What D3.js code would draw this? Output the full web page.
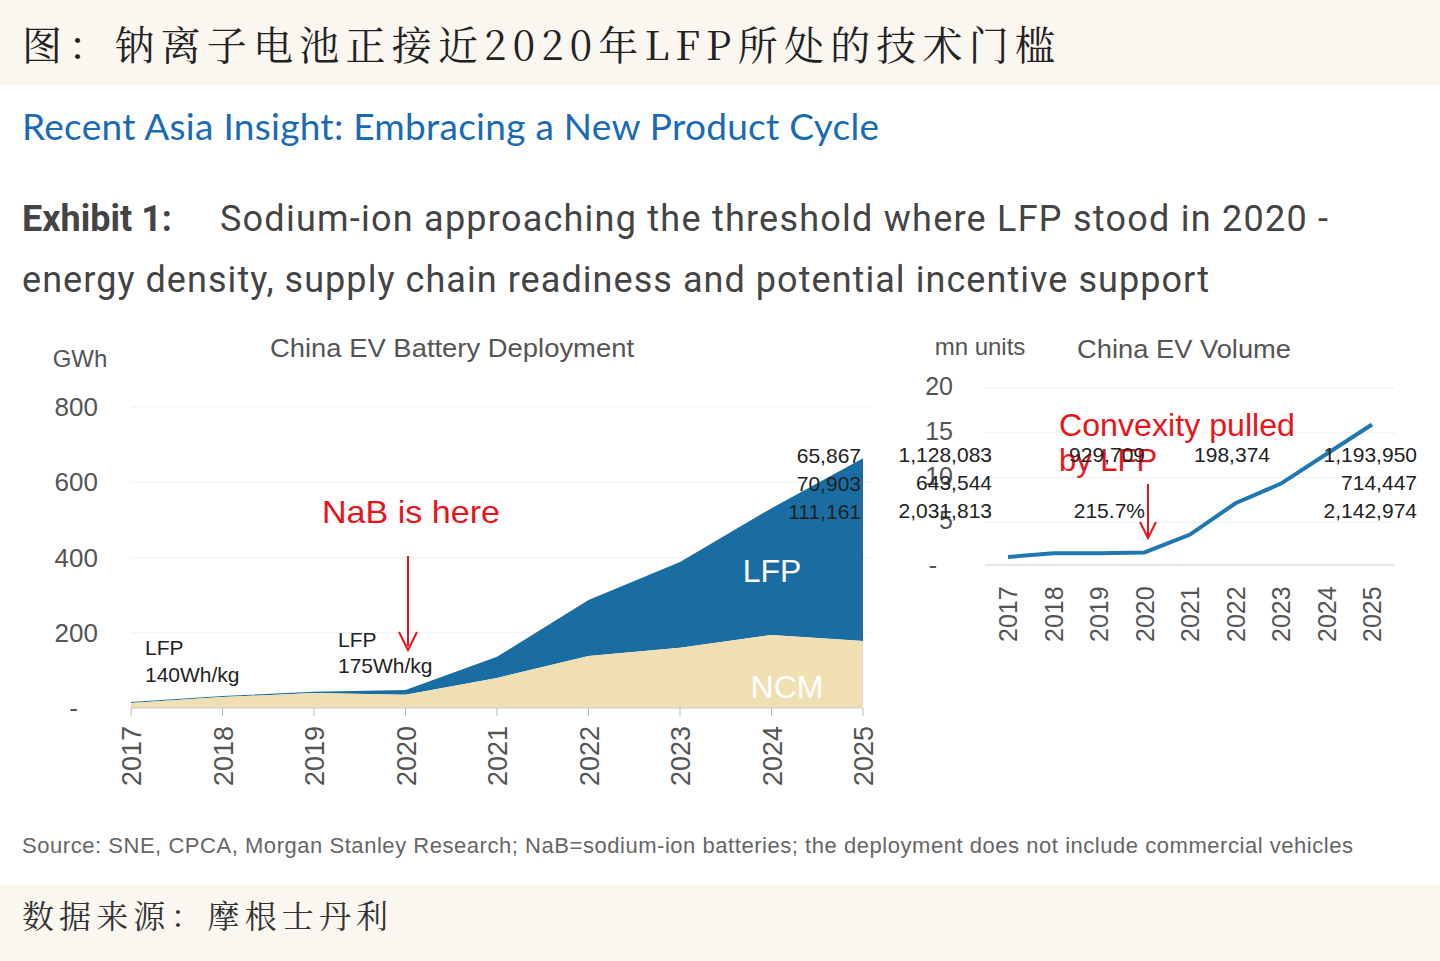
<!DOCTYPE html>
<html><head><meta charset="utf-8">
<script src="https://cdn.jsdelivr.net/npm/d3@7"></script>
<style>body{margin:0;background:#fff}svg{display:block}</style></head>
<body><svg id="c" width="1440" height="961"></svg>
<script>
const years=[2017,2018,2019,2020,2021,2022,2023,2024,2025];
const ncm=[13,29,40,35,80,138,160,194,178];
const lfp=[3,3,3,13,56,149,228,337,486];
const leftTicks=[0,200,400,600,800];
const leftTickLabels=["-","200","400","600","800"];
const evVolume=[0.9,1.3,1.3,1.4,3.4,6.9,9.1,12.4,15.7];
const rightTicks=[0,5,10,15,20];
const rightTickLabels=["-","5","10","15","20"];
const leftNums=["65,867","70,903","111,161"];
const rightNumsCol1=["1,128,083","643,544","2,031,813"];
const rightNumsCol2=["929,709","","215.7%"];
const rightNumsCol4=["1,193,950","714,447","2,142,974"];

const svg=d3.select("#c");
const F="Liberation Sans, Arial, sans-serif";
svg.append("rect").attr("width",1440).attr("height",961).attr("fill","#fff");
svg.append("rect").attr("width",1440).attr("height",85).attr("fill","#faf6f0");
svg.append("rect").attr("y",885).attr("width",1440).attr("height",76).attr("fill","#faf6f0");
svg.append("text").attr("x",22).attr("y",60).attr("font-family","Noto Serif CJK SC, Noto Sans CJK SC").attr("font-size",40).attr("fill","#222").attr("textLength",1033).attr("lengthAdjust","spacing").text("图：钠离子电池正接近2020年LFP所处的技术门槛");
svg.append("text").attr("x",22).attr("y",928).attr("font-family","Noto Serif CJK SC, Noto Sans CJK SC").attr("font-size",32).attr("fill","#333").attr("textLength",366).attr("lengthAdjust","spacing").text("数据来源：摩根士丹利");
svg.append("text").attr("x",22).attr("y",140).attr("font-family","Lato, sans-serif").attr("font-size",37).attr("fill","#1a6bb5").attr("textLength",857).attr("lengthAdjust","spacing").text("Recent Asia Insight: Embracing a New Product Cycle");
svg.append("text").attr("x",22).attr("y",231).attr("font-family","Roboto, sans-serif").attr("font-size",36).attr("fill","#444").attr("font-weight","bold").text("Exhibit 1:");
svg.append("text").attr("x",220).attr("y",231).attr("font-family","Roboto, sans-serif").attr("font-size",36).attr("fill","#444").attr("textLength",1108).attr("lengthAdjust","spacing").text("Sodium-ion approaching the threshold where LFP stood in 2020 -");
svg.append("text").attr("x",22).attr("y",292).attr("font-family","Roboto, sans-serif").attr("font-size",36).attr("fill","#444").attr("textLength",1187).attr("lengthAdjust","spacing").text("energy density, supply chain readiness and potential incentive support");
svg.append("text").attr("x",22).attr("y",853).attr("font-family",F).attr("font-size",22).attr("fill","#666").attr("textLength",1331).attr("lengthAdjust","spacing").text("Source: SNE, CPCA, Morgan Stanley Research; NaB=sodium-ion batteries; the deployment does not include commercial vehicles");

// left chart
const x=d3.scalePoint().domain(years).range([131,863]);
const y=d3.scaleLinear().domain([0,800]).range([708,407]);
const g=svg.append("g");
leftTicks.forEach((t,i)=>{
  if(t>0) g.append("line").attr("x1",131).attr("x2",870).attr("y1",y(t)).attr("y2",y(t)).attr("stroke","#f0f0f0");
  g.append("text").attr("x",i?98:78).attr("y",y(t)+9).attr("text-anchor","end").attr("font-family",F).attr("font-size",26).attr("fill","#555").text(leftTickLabels[i]);
});
const tot=ncm.map((v,i)=>v+lfp[i]);
g.append("path").datum(years).attr("fill","#1a6da3").attr("d",d3.area().x(d=>x(d)).y0((d,i)=>y(ncm[i])).y1((d,i)=>y(tot[i])));
g.append("path").datum(years).attr("fill","#efdfb3").attr("d",d3.area().x(d=>x(d)).y0(y(0)).y1((d,i)=>y(ncm[i])));
g.append("line").attr("x1",131).attr("x2",863).attr("y1",y(0)).attr("y2",y(0)).attr("stroke","#ccc");
years.forEach(yr=>{
  g.append("line").attr("x1",x(yr)).attr("x2",x(yr)).attr("y1",708).attr("y2",716).attr("stroke","#bbb");
  g.append("text").attr("transform",`translate(${x(yr)+10},786) rotate(-90)`).attr("font-family",F).attr("font-size",27).attr("fill","#555").text(yr);
});
g.append("text").attr("x",80).attr("y",367).attr("font-family",F).attr("font-size",24).attr("fill","#555").attr("text-anchor","middle").text("GWh");
g.append("text").attr("x",452).attr("y",357).attr("font-family",F).attr("font-size",25).attr("fill","#555").attr("text-anchor","middle").attr("textLength",364).attr("lengthAdjust","spacingAndGlyphs").text("China EV Battery Deployment");
g.append("text").attr("x",772).attr("y",582).attr("font-family",F).attr("font-size",32).attr("fill","#fff").attr("text-anchor","middle").text("LFP");
g.append("text").attr("x",787).attr("y",698).attr("font-family",F).attr("font-size",32).attr("fill","#fff").attr("text-anchor","middle").text("NCM");
g.append("text").attr("x",411).attr("y",523).attr("font-family",F).attr("font-size",32).attr("fill","#e8141b").attr("text-anchor","middle").attr("textLength",178).attr("lengthAdjust","spacingAndGlyphs").text("NaB is here");
g.append("line").attr("x1",408).attr("x2",408).attr("y1",556).attr("y2",646).attr("stroke","#e8141b").attr("stroke-width",2);
g.append("path").attr("d","M399,632 L408,650 L417,632").attr("fill","none").attr("stroke","#e8141b").attr("stroke-width",2);
[["LFP",145,655],["140Wh/kg",145,682],["LFP",338,647],["175Wh/kg",338,673]].forEach(a=>g.append("text").attr("x",a[1]).attr("y",a[2]).attr("font-family",F).attr("font-size",21).attr("fill","#222").text(a[0]));
leftNums.forEach((s,i)=>g.append("text").attr("x",861).attr("y",463+i*28).attr("text-anchor","end").attr("font-family",F).attr("font-size",21).attr("fill","#222").text(s));

// right chart
const x2=d3.scalePoint().domain(years).range([1008,1372]);
const y2=d3.scaleLinear().domain([0,20]).range([565,386]);
const h=svg.append("g");
rightTicks.forEach((t,i)=>{
  if(t>0) h.append("line").attr("x1",985).attr("x2",1395).attr("y1",y2(t)+2).attr("y2",y2(t)+2).attr("stroke","#f0f0f0");
  h.append("text").attr("x",i?953:937).attr("y",y2(t)+9).attr("text-anchor","end").attr("font-family",F).attr("font-size",25).attr("fill","#555").text(rightTickLabels[i]);
});
h.append("line").attr("x1",985).attr("x2",1395).attr("y1",y2(0)).attr("y2",y2(0)).attr("stroke","#e6e6e6").attr("stroke-width",2);
h.append("path").datum(evVolume).attr("fill","none").attr("stroke","#1f78b0").attr("stroke-width",4).attr("d",d3.line().x((d,i)=>x2(years[i])).y(d=>y2(d)));
years.forEach(yr=>h.append("text").attr("transform",`translate(${x2(yr)+9},642) rotate(-90)`).attr("font-family",F).attr("font-size",25).attr("fill","#555").text(yr));
h.append("text").attr("x",980).attr("y",355).attr("text-anchor","middle").attr("font-family",F).attr("font-size",24).attr("fill","#555").text("mn units");
h.append("text").attr("x",1184).attr("y",358).attr("text-anchor","middle").attr("font-family",F).attr("font-size",25).attr("fill","#555").attr("textLength",214).attr("lengthAdjust","spacingAndGlyphs").text("China EV Volume");
h.append("text").attr("x",1059).attr("y",436).attr("font-family",F).attr("font-size",31).attr("fill","#e8141b").attr("textLength",236).attr("lengthAdjust","spacingAndGlyphs").text("Convexity pulled");
h.append("text").attr("x",1059).attr("y",471).attr("font-family",F).attr("font-size",31).attr("fill","#e8141b").text("by LFP");
h.append("line").attr("x1",1148).attr("x2",1148).attr("y1",484).attr("y2",536).attr("stroke","#e8141b").attr("stroke-width",2);
h.append("path").attr("d","M1140,522 L1148,538 L1156,522").attr("fill","none").attr("stroke","#e8141b").attr("stroke-width",2);
const nf=t=>h.append("text").attr("font-family",F).attr("font-size",21).attr("fill","#222");
rightNumsCol1.forEach((s,i)=>nf().attr("x",992).attr("y",462+i*28).attr("text-anchor","end").text(s));
rightNumsCol2.forEach((s,i)=>nf().attr("x",1145).attr("y",462+i*28).attr("text-anchor","end").text(s));
nf().attr("x",1270).attr("y",462).attr("text-anchor","end").text("198,374");
rightNumsCol4.forEach((s,i)=>nf().attr("x",1417).attr("y",462+i*28).attr("text-anchor","end").text(s));
</script></body></html>
